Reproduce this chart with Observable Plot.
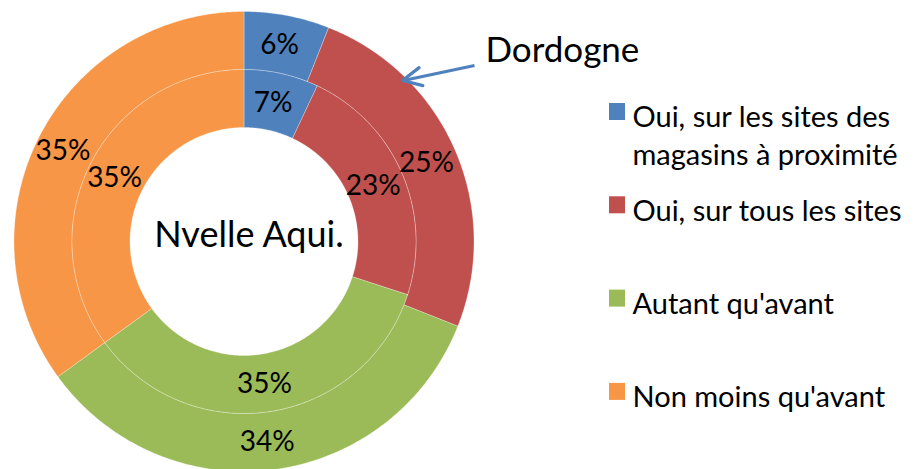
<!DOCTYPE html>
<html><head><meta charset="utf-8">
<script src="https://cdn.jsdelivr.net/npm/d3@7"></script>
<script src="https://cdn.jsdelivr.net/npm/@observablehq/plot@0.6"></script>
<style>body{margin:0;background:#fff}</style>
</head><body><div id="chart"></div>
<script>
// ---- data ----
const categories = ["Oui, sur les sites des magasins à proximité", "Oui, sur tous les sites", "Autant qu'avant", "Non moins qu'avant"];
const legendLabels = ["Oui, sur les sites des\nmagasins à proximité", "Oui, sur tous les sites", "Autant qu'avant", "Non moins qu'avant"];
const colors = ["#4F81BD", "#C0504D", "#9BBB59", "#F79646"];
const dordogne = [6, 25, 34, 35];    // outer ring
const nvelleAqui = [7, 23, 35, 35];  // inner ring
const outerName = "Dordogne";
const innerName = "Nvelle Aqui.";

// ---- layout ----
const W = 916, H = 469;
const cx = 243.5, cy = 241, R0 = 114, R1 = 172, R2 = 230;

function ring(values, r0, r1, tag) {
  const total = d3.sum(values);
  const polys = [], labels = [];
  let acc = 0;
  values.forEach((v, i) => {
    const a0 = acc / total * 2 * Math.PI; acc += v; const a1 = acc / total * 2 * Math.PI;
    const n = Math.max(2, Math.ceil((a1 - a0) / (Math.PI / 360)));
    const pts = [];
    for (let k = 0; k <= n; k++) { const a = a0 + (a1 - a0) * k / n; pts.push([cx + r1 * Math.sin(a), cy - r1 * Math.cos(a)]); }
    for (let k = n; k >= 0; k--) { const a = a0 + (a1 - a0) * k / n; pts.push([cx + r0 * Math.sin(a), cy - r0 * Math.cos(a)]); }
    pts.push(pts[0]);
    pts.forEach(([x, y]) => polys.push({x, y, key: tag + i, cat: categories[i]}));
    const am = (a0 + a1) / 2, rm = (r0 + r1) / 2;
    labels.push({x: cx + rm * Math.sin(am) - 2, y: cy - rm * Math.cos(am) + 1, text: v + "%"});
  });
  return {polys, labels};
}
const outer = ring(dordogne, R1, R2, "o");
const inner = ring(nvelleAqui, R0, R1, "i");

const legendTop = 103, legendStep = 93.3;
const legend = categories.map((c, i) => ({
  cat: c, label: legendLabels[i],
  x1: 609, x2: 625, y1: legendTop + i * legendStep, y2: legendTop + i * legendStep + 17
}));

// annotation arrow pointing at the outer ring (Dordogne)
const tail = [474, 65], tip = [402, 80];
const ang = Math.atan2(tail[1] - tip[1], tail[0] - tip[0]);
const wingLen = 21, wingAng = 26 * Math.PI / 180;
const head = [
  {x: tip[0] + wingLen * Math.cos(ang - wingAng), y: tip[1] + wingLen * Math.sin(ang - wingAng)},
  {x: tip[0], y: tip[1]},
  {x: tip[0] + wingLen * Math.cos(ang + wingAng), y: tip[1] + wingLen * Math.sin(ang + wingAng)}
];

const chart = Plot.plot({
  width: W, height: H,
  margin: 0,
  style: {fontFamily: "Lato", background: "#fff"},
  x: {domain: [0, W], range: [0, W], axis: null},
  y: {domain: [0, H], range: [0, H], axis: null},
  color: {domain: categories, range: colors},
  marks: [
    Plot.line(outer.polys, {x: "x", y: "y", z: "key", fill: "cat", stroke: "white", strokeOpacity: 0.35, strokeWidth: 0.8}),
    Plot.line(inner.polys, {x: "x", y: "y", z: "key", fill: "cat", stroke: "white", strokeOpacity: 0.35, strokeWidth: 0.8}),
    Plot.text(outer.labels, {x: "x", y: "y", text: "text", fontSize: 28, fill: "black"}),
    Plot.text(inner.labels, {x: "x", y: "y", text: "text", fontSize: 28, fill: "black"}),
    Plot.text([innerName], {x: cx + 5, y: 235, text: d => d, fontSize: 36, fill: "black"}),
    Plot.text([outerName], {x: 485, y: 37, text: d => d, fontSize: 35, fill: "black", textAnchor: "start", lineAnchor: "top"}),
    Plot.link([{x1: tail[0], y1: tail[1], x2: tip[0] + 1, y2: tip[1]}], {x1: "x1", y1: "y1", x2: "x2", y2: "y2", stroke: "#4F81BD", strokeWidth: 3.2}),
    Plot.line(head, {x: "x", y: "y", stroke: "#4F81BD", strokeWidth: 3.2, strokeLinecap: "round", strokeLinejoin: "round"}),
    Plot.rect(legend, {x1: "x1", x2: "x2", y1: "y1", y2: "y2", fill: "cat"}),
    Plot.text(legend, {x: 632, y: d => d.y1 - 3, text: "label", fontSize: 29, fill: "black", textAnchor: "start", lineAnchor: "top", lineHeight: 1.31})
  ]
});
document.getElementById("chart").append(chart);
</script>
</body></html>
